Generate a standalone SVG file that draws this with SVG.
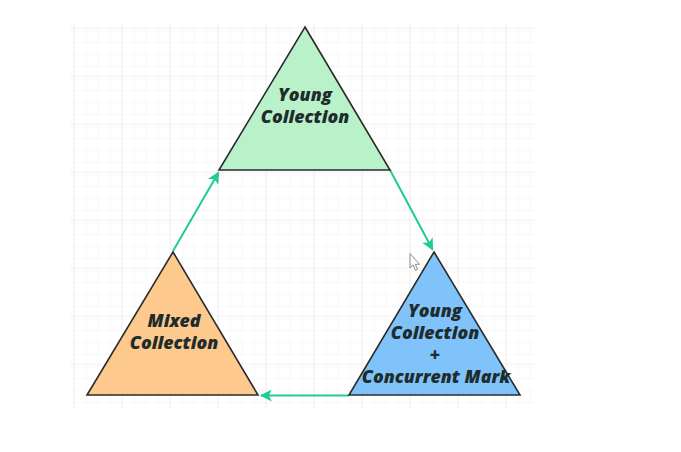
<svg xmlns="http://www.w3.org/2000/svg" width="681" height="452" viewBox="0 0 681 452">
  <style>
    .tri { stroke: #2b2b2b; stroke-width: 1.6; stroke-linejoin: miter; }
    .lbl { font-family: "Open Sans", "Noto Sans", "DejaVu Sans", sans-serif; font-weight: 800; font-style: italic; font-size: 17.8px; fill: #1f2c2c; text-anchor: middle; }
    .edge { stroke: #22cc8c; stroke-width: 2; fill: none; }
  </style>
  <defs>
    <pattern id="minor" x="1.5" y="3.5" width="12" height="12" patternUnits="userSpaceOnUse">
      <path d="M12 0V12M0 12H12" fill="none" stroke="#f1f1f1" stroke-width="1"/>
    </pattern>
    <pattern id="major" x="25.5" y="27.5" width="48" height="48" patternUnits="userSpaceOnUse">
      <rect width="48" height="48" fill="url(#minor)"/>
      <path d="M0 0V48M0 0H48" fill="none" stroke="#e3e3e3" stroke-width="1"/>
    </pattern>
    <marker id="arrow" viewBox="0 0 10 10" refX="9" refY="5" markerWidth="6" markerHeight="6" orient="auto" markerUnits="strokeWidth">
      <path d="M0 0L10 5L0 10L2.5 5Z" fill="#22cc8c"/>
    </marker>
  </defs>

  <rect width="681" height="452" fill="#ffffff"/>
  <!-- background grid -->
  <rect x="70" y="24" width="466" height="384" fill="url(#major)"/>

  <!-- connectors -->
  <g id="connectors">
    <line class="edge" x1="173" y1="251" x2="218.5" y2="172.5" marker-end="url(#arrow)"/>
    <line class="edge" x1="390" y1="170" x2="432.5" y2="249.5" marker-end="url(#arrow)"/>
    <line class="edge" x1="349" y1="395.5" x2="261" y2="395.5" marker-end="url(#arrow)"/>
  </g>

  <g id="young">
    <polygon class="tri" points="305,27 390,170 219,170" fill="#b9f2c9"/>
    <text class="lbl" x="305" y="101">Young</text>
    <text class="lbl" x="305" y="123">Collection</text>
  </g>

  <g id="mixed">
    <polygon class="tri" points="173,252 258,395 87,395" fill="#fdc98d"/>
    <text class="lbl" x="174" y="327">Mixed</text>
    <text class="lbl" x="174" y="349">Collection</text>
  </g>

  <g id="young-mark">
    <polygon class="tri" points="434,252 520,395 349,395" fill="#7fc3fa"/>
    <text class="lbl" x="435" y="317">Young</text>
    <text class="lbl" x="435" y="339">Collection</text>
    <text class="lbl" x="435" y="361">+</text>
    <text class="lbl" x="436" y="383">Concurrent Mark</text>
  </g>

  <!-- pointer -->
  <path d="M410 253.5V268L413.2 265L415.5 270.5L417.5 269.6L415.3 264.3H419.5Z" fill="#ffffff" stroke="#8a8a8a" stroke-width="1" stroke-linejoin="round"/>
</svg>
